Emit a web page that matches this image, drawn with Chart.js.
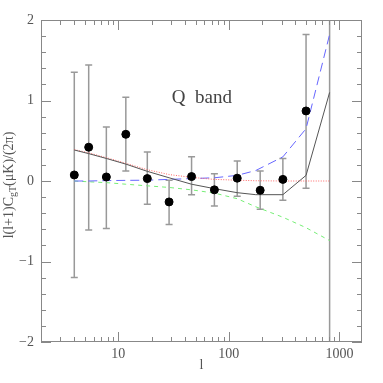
<!DOCTYPE html>
<html>
<head>
<meta charset="utf-8">
<script src="https://cdn.jsdelivr.net/npm/chart.js@4"></script>
<style>
  html, body { margin: 0; padding: 0; background: #fff; }
  #wrap { width: 383px; height: 383px; }
</style>
</head>
<body>
<div id="wrap"><canvas id="chart" width="383" height="383"></canvas></div>
<script>
// measured points with error bars
const ells = [4, 5.4, 7.8, 11.7, 18.3, 28.8, 46, 74, 119, 192, 308, 499];
const values = [0.075, 0.42, 0.05, 0.58, 0.03, -0.26, 0.055, -0.11, 0.035, -0.115, 0.02, 0.87];
const errHigh = [1.35, 1.44, 0.67, 1.04, 0.36, 0.01, 0.3, 0.09, 0.25, 0.125, 0.28, 1.82];
const errLow = [-1.2, -0.61, -0.59, 0.125, -0.29, -0.54, -0.17, -0.31, -0.19, -0.35, -0.24, -0.09];
// last bin: bar only, runs off both ends of the axis
const lastEll = 815;
const lastLow = -3;
const lastHigh = 3;

// model curves
const modelEll = [4, 5.4, 7.8, 11.7, 18.3, 28.8, 46, 74, 119, 175, 308, 499, 815];
const totalModel = [0.385, 0.34, 0.28, 0.21, 0.12, 0.04, -0.04, -0.095, -0.145, -0.17, -0.17, 0.07, 1.1];
const redModel = [0.39, 0.35, 0.29, 0.22, 0.14, 0.08, 0.045, 0.02, 0.01, 0.003, 0.0, 0.0, 0.0];
const blueModel = [0.0, 0.0, 0.005, 0.008, 0.01, 0.02, 0.03, 0.04, 0.07, 0.13, 0.3, 0.65, 1.82];
const greenModel = [0.0, -0.01, -0.02, -0.04, -0.06, -0.08, -0.11, -0.15, -0.22, -0.32, -0.45, -0.58, -0.74];

const xMajor = [10, 100, 1000];
const xMinor = [2, 3, 4, 5, 6, 7, 8, 9, 20, 30, 40, 50, 60, 70, 80, 90, 200, 300, 400, 500, 600, 700, 800, 900];
const yMajor = [-2, -1, 0, 1, 2];
const yMinor = [-1.8, -1.6, -1.4, -1.2, -0.8, -0.6, -0.4, -0.2, 0.2, 0.4, 0.6, 0.8, 1.2, 1.4, 1.6, 1.8];

const serif = "'Liberation Serif', 'DejaVu Serif', serif";

function pts(xs, ys) {
    return xs.map((x, i) => ({ x: x, y: ys[i] }));
}

const errorBars = {
    id: "errorBars",
    beforeDatasetsDraw(chart) {
        const ctx = chart.ctx;
        const xs = chart.scales.x, ys = chart.scales.y;
        const area = chart.chartArea;
        ctx.save();
        ctx.beginPath();
        ctx.rect(area.left, area.top, area.right - area.left, area.bottom - area.top);
        ctx.clip();
        ctx.strokeStyle = "#999";
        ctx.lineWidth = 1.5;
        ells.forEach((l, i) => {
            const px = xs.getPixelForValue(l);
            const top = ys.getPixelForValue(errHigh[i]);
            const bot = ys.getPixelForValue(errLow[i]);
            ctx.beginPath();
            ctx.moveTo(px, top); ctx.lineTo(px, bot);
            ctx.moveTo(px - 3.5, top); ctx.lineTo(px + 3.5, top);
            ctx.moveTo(px - 3.5, bot); ctx.lineTo(px + 3.5, bot);
            ctx.stroke();
        });
        const lx = xs.getPixelForValue(lastEll);
        ctx.beginPath();
        ctx.moveTo(lx, ys.getPixelForValue(lastHigh));
        ctx.lineTo(lx, ys.getPixelForValue(lastLow));
        ctx.stroke();
        ctx.restore();
    }
};

const frameAndText = {
    id: "frameAndText",
    afterDraw(chart) {
        const ctx = chart.ctx;
        const xs = chart.scales.x, ys = chart.scales.y;
        const a = chart.chartArea;
        ctx.save();
        ctx.strokeStyle = "#888";
        ctx.lineWidth = 1;
        ctx.strokeRect(a.left + 0.5, a.top + 0.5, a.right - a.left - 1, a.bottom - a.top - 1);
        ctx.beginPath();
        xMajor.forEach(v => {
            const p = Math.round(xs.getPixelForValue(v)) + 0.5;
            ctx.moveTo(p, a.bottom); ctx.lineTo(p, a.bottom - 10);
            ctx.moveTo(p, a.top); ctx.lineTo(p, a.top + 10);
        });
        xMinor.forEach(v => {
            const p = Math.round(xs.getPixelForValue(v)) + 0.5;
            ctx.moveTo(p, a.bottom); ctx.lineTo(p, a.bottom - 5);
            ctx.moveTo(p, a.top); ctx.lineTo(p, a.top + 5);
        });
        yMajor.forEach(v => {
            const p = Math.round(ys.getPixelForValue(v)) + 0.5;
            ctx.moveTo(a.left, p); ctx.lineTo(a.left + 10, p);
            ctx.moveTo(a.right, p); ctx.lineTo(a.right - 10, p);
        });
        yMinor.forEach(v => {
            const p = Math.round(ys.getPixelForValue(v)) + 0.5;
            ctx.moveTo(a.left, p); ctx.lineTo(a.left + 5, p);
            ctx.moveTo(a.right, p); ctx.lineTo(a.right - 5, p);
        });
        ctx.stroke();

        // label inside the plot
        ctx.fillStyle = "#444";
        ctx.font = "19px " + serif;
        ctx.textAlign = "center";
        ctx.textBaseline = "middle";
        ctx.fillText("Q  band", xs.getPixelForValue(57), ys.getPixelForValue(1.03));

        // y title with subscript
        ctx.fillStyle = "#555";
        ctx.translate(9, (a.top + a.bottom) / 2 + 4);
        ctx.rotate(-Math.PI / 2);
        ctx.textAlign = "left";
        ctx.textBaseline = "middle";
        const big = "14px " + serif, small = "10px " + serif;
        const parts = [["l(l+1)C", big, 0], ["gT", small, 4], ["(\u03BCK)/(2\u03C0)", big, 0]];
        let w = 0;
        parts.forEach(p => { ctx.font = p[1]; w += ctx.measureText(p[0]).width; });
        let x = -w / 2;
        parts.forEach(p => {
            ctx.font = p[1];
            ctx.fillText(p[0], x, p[2]);
            x += ctx.measureText(p[0]).width;
        });
        ctx.restore();
    }
};

new Chart(document.getElementById("chart").getContext("2d"), {
    type: "scatter",
    data: {
        datasets: [
            {
                data: pts(ells, values),
                backgroundColor: "#000",
                borderColor: "#000",
                pointRadius: 4,
                order: 0
            },
            {
                type: "line",
                data: pts(modelEll, totalModel),
                borderColor: "#555",
                borderWidth: 1,
                pointRadius: 0,
                fill: false,
                order: 1
            },
            {
                type: "line",
                data: pts(modelEll, redModel),
                borderColor: "#f66",
                borderWidth: 1,
                borderDash: [1, 1.5],
                pointRadius: 0,
                fill: false,
                order: 2
            },
            {
                type: "line",
                data: pts(modelEll, blueModel),
                borderColor: "#66f",
                borderWidth: 1,
                borderDash: [9, 5],
                pointRadius: 0,
                fill: false,
                order: 3
            },
            {
                type: "line",
                data: pts(modelEll, greenModel),
                borderColor: "#7e7",
                borderWidth: 1,
                borderDash: [4, 4],
                pointRadius: 0,
                fill: false,
                order: 4
            }
        ]
    },
    options: {
        responsive: false,
        animation: false,
        layout: { padding: { left: 0, right: 21, top: 20, bottom: 0 } },
        plugins: {
            legend: { display: false },
            tooltip: { enabled: false }
        },
        scales: {
            x: {
                type: "logarithmic",
                min: 2,
                max: 1600,
                afterBuildTicks: s => { s.ticks = xMajor.map(v => ({ value: v })); },
                afterFit: s => { s.height = 41; },
                grid: { display: false, drawTicks: false },
                border: { display: false },
                ticks: {
                    color: "#555",
                    font: { family: serif, size: 14 },
                    padding: 4,
                    maxRotation: 0,
                    callback: v => String(v)
                },
                title: {
                    display: true,
                    text: "l",
                    color: "#555",
                    font: { family: serif, size: 14 },
                    padding: { top: 0, bottom: 9 }
                }
            },
            y: {
                min: -2,
                max: 2,
                afterBuildTicks: s => { s.ticks = yMajor.map(v => ({ value: v })); },
                afterFit: s => { s.width = 41; },
                grid: { display: false, drawTicks: false },
                border: { display: false },
                ticks: {
                    color: "#555",
                    font: { family: serif, size: 14 },
                    padding: 7,
                    callback: v => (v < 0 ? "\u2212" + Math.abs(v) : String(v))
                }
            }
        }
    },
    plugins: [errorBars, frameAndText]
});
</script>
</body>
</html>
